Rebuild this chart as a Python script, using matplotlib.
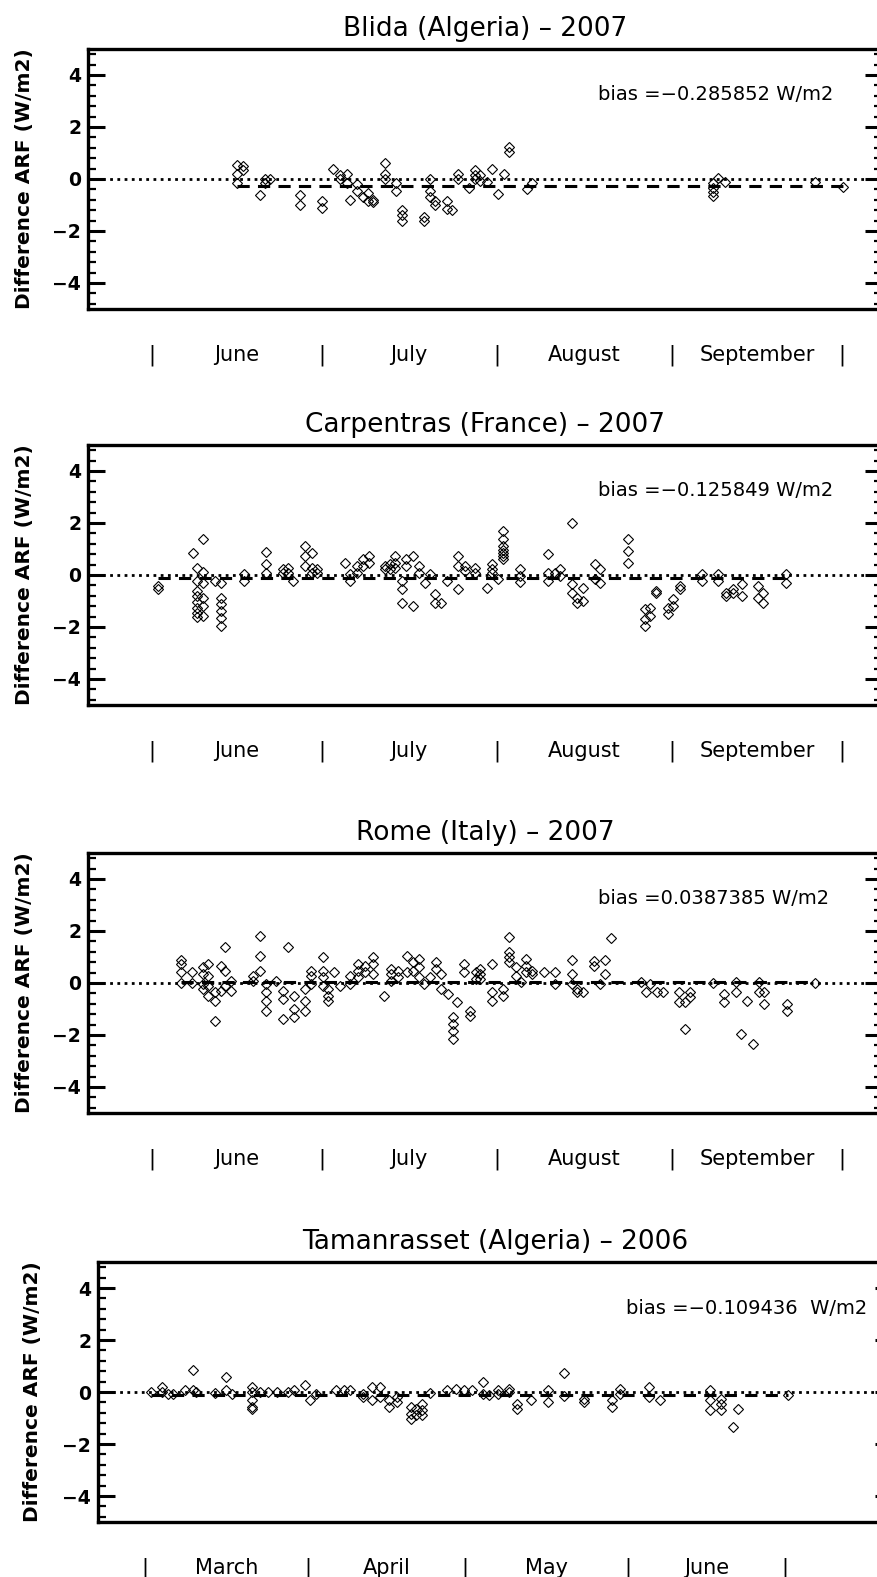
import matplotlib
matplotlib.use("Agg")
import matplotlib.pyplot as plt
from matplotlib.ticker import MultipleLocator, AutoMinorLocator
from matplotlib.transforms import blended_transform_factory

# ---- data: day of year, difference in ARF (W/m2) ----
blida_day = [167.0, 167.0, 167.0, 168.1, 168.1, 171.1, 172.0, 172.0, 172.9,
             178.2, 178.2, 182.1, 182.1, 184.0, 185.3, 185.3, 186.5, 186.5,
             187.0, 188.3, 188.3, 189.3, 190.2, 190.2, 191.1, 191.1,
             193.2, 193.2, 193.2, 195.2, 195.2, 196.2, 196.2, 196.2,
             200.1, 200.1, 201.2, 201.2, 201.2, 202.1, 202.1, 204.2, 204.2,
             205.1, 206.1, 206.1, 208.1, 209.1, 209.1, 209.1, 210.0, 210.0,
             211.2, 212.1, 213.2, 214.2, 215.1, 215.1, 218.3, 219.2,
             251.2, 251.2, 251.2, 251.2, 252.1, 253.3, 269.2, 274.2]
blida_arf = [0.55, 0.2, -0.17, 0.5, 0.33, -0.6, -0.15, 0.0, 0.0,
             -0.6, -1.0, -0.83, -1.1, 0.37, 0.17, 0.0, 0.2, -0.15,
             -0.8, -0.45, -0.2, -0.68, -0.55, -0.83, -0.8, -0.9,
             0.6, 0.2, 0.0, -0.17, -0.45, -1.2, -1.4, -1.6,
             -1.45, -1.6, 0.0, -0.45, -0.7, -0.83, -1.0, -0.83, -1.15,
             -1.2, 0.2, 0.0, -0.35, 0.33, 0.15, 0.0, 0.15, -0.07,
             -0.1, 0.4, -0.57, 0.2, 1.25, 1.03, -0.37, -0.15,
             -0.15, -0.35, -0.5, -0.65, 0.03, -0.1, -0.12, -0.3]

carp_day = [153.1, 153.1, 159.2,
            160.0, 160.0, 160.0, 160.0, 160.0, 160.0, 160.0, 160.0,
            161.1, 161.1, 161.1, 161.1, 161.1, 161.1, 163.2,
            164.2, 164.2, 164.2, 164.2, 164.2, 164.2, 168.2, 168.2,
            172.1, 172.1, 172.1, 175.1, 175.1, 176.1, 176.1, 177.0,
            179.1, 179.1, 179.1, 180.3, 180.3, 180.3, 181.2, 181.2,
            186.1, 187.1, 187.1, 188.2, 188.2, 189.4, 189.4, 190.3, 190.3,
            193.2, 193.2, 194.1, 194.1, 195.0, 195.0, 195.0,
            196.2, 196.2, 196.2, 197.0, 197.0, 198.2, 198.2, 199.3, 199.3,
            200.3, 201.2, 202.1, 202.1, 203.2, 204.1, 206.2, 206.2, 206.2,
            207.4, 207.4, 209.1, 209.1, 211.2, 212.1, 212.2, 212.2, 213.2,
            214.1, 214.1, 214.1, 214.1, 214.1, 214.1, 214.1,
            217.1, 217.1, 217.1, 222.0, 222.0, 222.0, 223.3, 224.2, 224.2,
            226.2, 226.2, 226.2, 227.1, 227.1, 228.3, 228.3, 230.3, 230.3,
            231.2, 231.2, 236.2, 236.2, 236.2, 239.2, 239.2, 239.2,
            240.1, 240.1, 241.2, 241.2, 243.3, 243.3, 244.2, 244.2,
            245.4, 245.4, 249.2, 249.2, 252.1, 252.1, 253.6, 253.6,
            254.8, 254.8, 256.3, 256.3, 259.2, 259.2, 260.1, 260.1,
            264.2, 264.2]
carp_arf = [-0.42, -0.55, 0.86,
            0.28, -0.23, -0.6, -0.8, -1.05, -1.25, -1.45, -1.6,
            1.37, 0.1, -0.3, -0.87, -1.2, -1.58, -0.23,
            -0.3, -0.87, -1.13, -1.38, -1.64, -1.96, 0.03, -0.23,
            0.88, 0.41, 0.09, 0.22, 0.09, 0.28, 0.09, -0.23,
            1.12, 0.73, 0.35, 0.86, 0.28, 0.09, 0.22, 0.09,
            0.45, -0.23, 0.03, 0.35, 0.09, 0.6, 0.35, 0.73, 0.47,
            0.35, 0.22, 0.41, 0.22, 0.73, 0.47, 0.28,
            -0.23, -0.55, -1.06, 0.6, 0.35, 0.73, -1.19, 0.35, 0.09,
            -0.3, 0.03, -0.74, -1.06, -1.06, -0.23, 0.73, 0.35, -0.55,
            0.35, 0.15, 0.28, 0.09, -0.49, 0.09, 0.41, 0.22, -0.17,
            1.69, 1.37, 1.1, 0.98, 0.86, 0.73, 0.6,
            0.22, -0.04, -0.27, 0.79, 0.09, -0.23, 0.09, 0.22, -0.04,
            2.0, -0.36, -0.68, -0.87, -1.06, -0.49, -1.0, 0.41, -0.17,
            0.22, -0.3, 1.37, 0.92, 0.47, -1.32, -1.7, -1.96,
            -1.26, -1.58, -0.62, -0.68, -1.26, -1.51, -0.94, -1.19,
            -0.42, -0.55, 0.03, -0.23, 0.03, -0.23, -0.68, -0.8,
            -0.55, -0.68, -0.36, -0.8, -0.42, -0.87, -0.68, -1.06,
            0.03, -0.3]

rome_day = [157.1, 157.1, 157.1, 157.1, 159.1, 159.1,
            161.0, 161.0, 161.0, 161.0, 161.9, 161.9, 161.9, 161.9,
            163.1, 163.1, 163.1, 164.2, 164.2, 165.0, 165.0, 165.0,
            166.0, 166.0, 169.9, 169.9, 171.2, 171.2, 171.2,
            172.2, 172.2, 172.2, 172.2, 174.0, 175.2, 175.2, 175.2, 176.1,
            177.2, 177.2, 177.2, 179.0, 179.0, 179.0, 180.1, 180.1, 180.1,
            182.2, 182.2, 182.2, 182.2, 183.1, 183.1, 183.1, 184.2, 185.2,
            187.0, 187.0, 188.4, 188.4, 188.4, 189.6, 189.6,
            191.1, 191.1, 191.1, 193.1, 194.3, 194.3, 194.3, 195.5, 195.5,
            197.1, 197.1, 198.2, 198.2, 199.2, 199.2, 199.2, 200.1, 201.1,
            202.3, 202.3, 203.2, 203.2, 204.3, 205.2, 205.2, 205.2, 205.2,
            206.0, 207.2, 207.2, 208.2, 208.2, 209.3, 209.3,
            210.1, 210.1, 210.1, 212.2, 212.2, 212.2, 214.1, 214.1,
            215.2, 215.2, 215.2, 215.2, 216.3, 216.3, 217.2,
            218.2, 218.2, 218.2, 219.2, 219.2, 221.3, 223.3, 223.3,
            226.3, 226.3, 226.3, 227.2, 227.2, 228.2, 230.1, 230.1, 231.3,
            232.2, 232.2, 233.2, 238.4, 239.3, 240.1, 241.3, 242.3,
            245.2, 245.2, 246.3, 246.3, 247.2, 247.2, 251.3, 253.2, 253.2,
            255.2, 255.2, 256.2, 257.2, 258.3, 259.3, 259.3, 260.3, 260.3,
            264.3, 264.3, 269.3]
rome_arf = [0.88, 0.73, 0.41, 0.0, 0.41, 0.0,
            0.6, 0.35, -0.04, -0.23, 0.73, 0.28, -0.1, -0.49,
            -0.36, -0.68, -1.45, 0.67, -0.3, 1.37, 0.47, -0.1,
            0.09, -0.3, 0.28, 0.09, 1.82, 1.05, 0.47,
            -0.04, -0.36, -0.68, -1.06, 0.09, -0.3, -0.62, -1.38, 1.37,
            -0.49, -1.0, -1.32, -0.23, -0.68, -1.06, 0.47, 0.28, -0.04,
            0.99, 0.47, 0.22, -0.1, -0.23, -0.49, -0.68, 0.41, -0.1,
            0.28, -0.04, 0.73, 0.47, 0.22, 0.67, 0.41,
            0.99, 0.73, 0.35, -0.49, 0.54, 0.35, 0.09, 0.47, 0.22,
            1.05, 0.41, 0.79, 0.47, 0.92, 0.6, 0.22, -0.04, 0.22,
            0.79, 0.54, 0.35, -0.23, -0.42, -1.32, -1.58, -1.83, -2.15,
            -0.74, 0.73, 0.41, -1.06, -1.26, 0.41, 0.15,
            0.54, 0.35, 0.15, 0.73, -0.36, -0.68, -0.23, -0.49,
            1.76, 1.18, 0.99, 0.79, 0.6, 0.28, 0.03,
            0.92, 0.67, 0.41, 0.47, 0.35, 0.41, 0.41, -0.04,
            0.88, 0.35, -0.04, -0.23, -0.36, -0.36, 0.86, 0.67, -0.04,
            0.88, 0.35, 1.73, 0.03, -0.36, -0.04, -0.36, -0.36,
            -0.36, -0.74, -0.74, -1.77, -0.36, -0.55, 0.0, -0.42, -0.74,
            0.03, -0.36, -1.96, -0.68, -2.35, 0.03, -0.36, -0.36, -0.8,
            -0.8, -1.06, 0.0]

taman_day = [61.1, 63.2, 63.2, 64.3, 65.3, 67.5, 69.1, 69.1, 69.6, 73.3,
             75.5, 75.5, 76.5, 80.3, 80.3, 80.3, 80.3, 80.3, 81.9, 83.5,
             85.1, 87.2, 88.3, 90.4, 91.5, 92.5, 96.3, 97.9, 99.0,
             101.6, 101.6, 103.2, 103.2, 104.8, 104.8, 106.4, 106.4,
             108.0, 108.0, 110.7, 110.7, 110.7, 111.7, 111.7,
             112.8, 112.8, 112.8, 114.4, 117.6, 119.2, 120.8, 122.4,
             124.5, 124.5, 125.6, 127.2, 127.2, 129.3, 129.3, 130.9, 130.9,
             133.6, 136.8, 136.8, 139.8, 139.8, 143.7, 143.7, 149.0, 149.0,
             150.6, 150.6, 156.0, 156.0, 158.1, 167.7, 167.7, 167.7,
             169.8, 169.8, 169.8, 172.0, 173.0, 182.6]
taman_arf = [0.0, 0.19, 0.0, -0.06, -0.06, 0.06, 0.86, 0.06, 0.0, -0.04,
             0.06, 0.58, -0.06, 0.19, 0.0, -0.32, -0.58, -0.64, 0.0, 0.0,
             0.0, 0.0, 0.06, 0.26, -0.32, -0.06, 0.06, 0.06, 0.06,
             -0.06, -0.19, 0.19, -0.32, 0.19, -0.19, -0.32, -0.58,
             -0.19, -0.38, -0.58, -0.83, -1.03, -0.64, -0.9,
             -0.45, -0.71, -0.9, -0.04, 0.09, 0.13, 0.06, 0.06,
             0.38, -0.06, -0.13, -0.06, 0.06, 0.13, 0.0, -0.45, -0.64,
             -0.32, 0.06, -0.38, 0.73, -0.17, -0.26, -0.38, -0.32, -0.58,
             0.13, -0.06, 0.19, -0.19, -0.32, 0.06, -0.32, -0.7,
             -0.26, -0.45, -0.7, -1.35, -0.64, -0.13]

titles = ["Blida (Algeria) – 2007", "Carpentras (France) – 2007",
          "Rome (Italy) – 2007", "Tamanrasset (Algeria) – 2006"]
bias_labels = ["bias =−0.285852 W/m2", "bias =−0.125849 W/m2",
               "bias =0.0387385 W/m2", "bias =−0.109436  W/m2"]
bias_values = [-0.285852, -0.125849, 0.0387385, -0.109436]

months_2007 = ["June", "July", "August", "September"]
month_starts_2007 = [152, 182, 213, 244, 274]
months_2006 = ["March", "April", "May", "June"]
month_starts_2006 = [60, 91, 121, 152, 182]

# ---- layout (pixel boxes of the original figure) ----
W, H = 877, 1577
box_w, box_h = 794, 260
boxes = [(88, 49), (88, 445), (88, 853), (98, 1262)]
xlims = [(140.7, 281.1)] * 3 + [(51.0, 202.4)]

panels = [
    (blida_day, blida_arf, months_2007, month_starts_2007),
    (carp_day, carp_arf, months_2007, month_starts_2007),
    (rome_day, rome_arf, months_2007, month_starts_2007),
    (taman_day, taman_arf, months_2006, month_starts_2006),
]

fig = plt.figure(figsize=(W / 100, H / 100), dpi=100)

for i, (days, arf, mnames, mstarts) in enumerate(panels):
    left, top = boxes[i]
    ax = fig.add_axes([left / W, 1 - (top + box_h) / H, box_w / W, box_h / H])

    ax.plot(days, arf, ls="none", marker="D", ms=4.6, mfc="none",
            mec="black", mew=0.8, zorder=3)
    ax.axhline(0, color="black", lw=2.0, ls=(0, (1, 1.6)), zorder=2)
    ax.plot([min(days), max(days)], [bias_values[i]] * 2, color="black",
            lw=2.2, ls=(0, (4, 2.7)), zorder=2)

    ax.set_xlim(*xlims[i])
    ax.set_ylim(-5, 5)
    ax.set_xticks([])
    ax.set_yticks([-4, -2, 0, 2, 4], labels=["−4", "−2", "0", "2", "4"],
                  fontweight="bold", fontsize=13.5)
    ax.yaxis.set_minor_locator(AutoMinorLocator(5))
    ax.tick_params(axis="y", which="major", direction="in", length=12,
                   width=2.2, left=True, right=True, pad=5)
    ax.tick_params(axis="y", which="minor", direction="in", length=6,
                   width=1.6, left=True, right=True)
    for sp in ax.spines.values():
        sp.set_linewidth(2.4)

    ax.set_ylabel("Difference ARF (W/m2)", fontsize=14.5, fontweight="bold")
    ax.yaxis.set_label_coords(-(63 + (left - 88) * 0.2) / box_w, 0.5)
    ax.yaxis.label.set_verticalalignment("center")

    ax.text(0.5, 1 + 20 / box_h, titles[i], transform=ax.transAxes,
            ha="center", va="center", fontsize=19)
    bx = 0.642 if i < 3 else 0.665
    ax.text(bx, 1 - 46 / box_h, bias_labels[i], transform=ax.transAxes,
            ha="left", va="center", fontsize=14)

    trans = blended_transform_factory(ax.transData, ax.transAxes)
    ylab = -46 / box_h
    for d in mstarts:
        ax.text(d, ylab, "|", transform=trans, ha="center", va="center",
                fontsize=15, clip_on=False)
    for j, name in enumerate(mnames):
        mid = (mstarts[j] + mstarts[j + 1]) / 2
        ax.text(mid, ylab, name, transform=trans, ha="center", va="center",
                fontsize=15, clip_on=False)

fig.savefig("out.png", dpi=100)
